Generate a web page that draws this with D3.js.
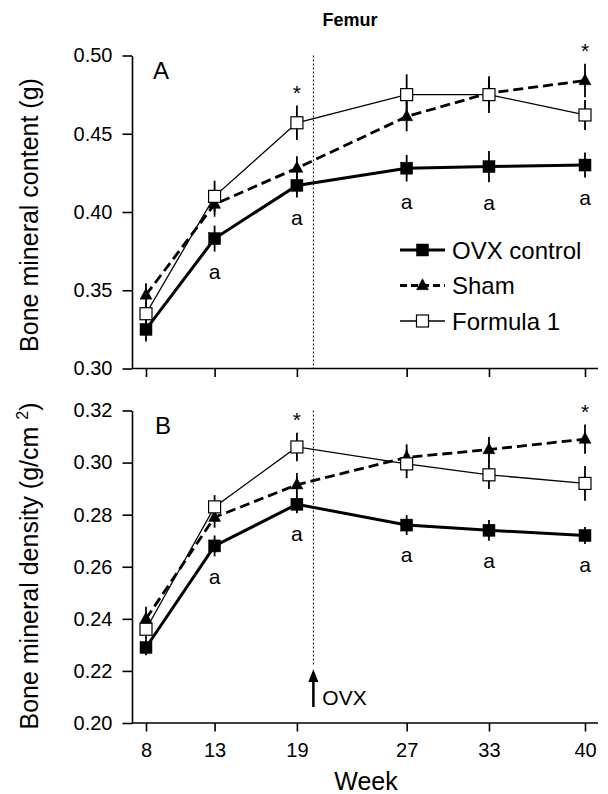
<!DOCTYPE html>
<html><head><meta charset="utf-8">
<script src="https://cdn.jsdelivr.net/npm/d3@7"></script>
<style>body{margin:0;background:#fff} text{font-family:"Liberation Sans",Arial,sans-serif;fill:#000}</style>
</head><body><svg id="c" width="608" height="794"></svg>
<script>
// ---------- data ----------
const weeks = [8, 13, 19, 27, 33, 40];
const seriesNames = ["OVX control", "Sham", "Formula 1"];
// Panel A: bone mineral content (g)
const bmcOVX    = [0.325, 0.383, 0.417, 0.428, 0.429, 0.430];
const bmcOVXse  = [0.0077, 0.0083, 0.0077, 0.0085, 0.010, 0.008];
const bmcSham   = [0.347, 0.405, 0.428, 0.461, 0.476, 0.484];
const bmcShamSe = [0.0075, 0.008, 0.0077, 0.0094, 0.009, 0.0107];
const bmcF1     = [0.335, 0.410, 0.457, 0.475, 0.475, 0.462];
const bmcF1Se   = [0.007, 0.010, 0.011, 0.013, 0.0117, 0.0096];
// Panel B: bone mineral density (g/cm2)
const bmdOVX    = [0.229, 0.268, 0.284, 0.276, 0.274, 0.272];
const bmdOVXse  = [0.003, 0.004, 0.0035, 0.0038, 0.004, 0.0033];
const bmdSham   = [0.240, 0.279, 0.2915, 0.302, 0.305, 0.309];
const bmdShamSe = [0.0046, 0.004, 0.0045, 0.005, 0.0048, 0.0056];
const bmdF1     = [0.236, 0.283, 0.306, 0.2995, 0.2953, 0.292];
const bmdF1Se   = [0.004, 0.0045, 0.0055, 0.0055, 0.0054, 0.0067];
const bmcTicks = [0.30, 0.35, 0.40, 0.45, 0.50];
const bmdTicks = [0.20, 0.22, 0.24, 0.26, 0.28, 0.30, 0.32];
const starWeeks = [19, 40];
const letterWeeks = [13, 19, 27, 33, 40];
const ovxWeek = 20.2;

// ---------- layout ----------
const svg = d3.select("#c");
const axisX = 132, axisRight = 598;
const x = d3.scaleLinear().domain([8, 40]).range([146, 585]);
const yA = d3.scaleLinear().domain([0.30, 0.50]).range([368.5, 55.5]);
const yB = d3.scaleLinear().domain([0.20, 0.32]).range([723, 410.5]);
const fmt = d3.format(".2f");

const styles = [
  {shape: "square", fill: "#000", width: 3, dash: null},
  {shape: "triangle", fill: "#000", width: 2.8, dash: "10,5"},
  {shape: "square", fill: "#fff", width: 1.3, dash: null}
];

function marker(g, shape, fill, cx, cy) {
  if (shape === "square") {
    const s = 12;
    g.append("rect").attr("x", cx - s/2).attr("y", cy - s/2).attr("width", s).attr("height", s)
      .attr("fill", fill).attr("stroke", "#000").attr("stroke-width", fill === "#fff" ? 1.2 : 0.5);
  } else {
    const w = 12, h = 11;
    g.append("path").attr("d", `M${cx},${cy - h*0.62}L${cx + w/2},${cy + h*0.38}L${cx - w/2},${cy + h*0.38}Z`)
      .attr("fill", fill).attr("stroke", "#000").attr("stroke-width", 0.5);
  }
}

function panel(y, ticks, data, showXLabels, letter, letterPos) {
  const g = svg.append("g");
  const ya = g.append("g").attr("transform", `translate(${axisX},0)`)
    .call(d3.axisLeft(y).tickValues(ticks).tickFormat(fmt).tickSize(9.5).tickPadding(10).tickSizeOuter(0));
  const xa = g.append("g").attr("transform", `translate(0,${y.range()[0]})`)
    .call(d3.axisBottom(x).tickValues(weeks).tickSize(8.5).tickPadding(11).tickSizeOuter(0)
      .tickFormat(showXLabels ? d3.format("d") : () => ""));
  xa.select(".domain").attr("d", `M${axisX},0H${axisRight}`);
  [ya, xa].forEach(a => {
    a.selectAll("path,line").attr("stroke", "#000").attr("stroke-width", 1.6);
    a.selectAll("text").attr("font-size", 20).attr("font-family", '"Liberation Sans",Arial,sans-serif');
  });
  const dotBottom = showXLabels ? 665 : y.range()[0];
  g.append("line").attr("x1", x(ovxWeek)).attr("x2", x(ovxWeek))
    .attr("y1", y.range()[1]).attr("y2", dotBottom)
    .attr("stroke", "#000").attr("stroke-width", 1).attr("stroke-dasharray", "2,2");
  data.forEach(s => {
    s.v.forEach((v, i) => {
      g.append("line").attr("x1", x(weeks[i])).attr("x2", x(weeks[i]))
        .attr("y1", y(v - s.e[i])).attr("y2", y(v + s.e[i]))
        .attr("stroke", "#000").attr("stroke-width", 1.8);
    });
  });
  data.forEach((s, si) => {
    const st = styles[si];
    g.append("path").datum(s.v)
      .attr("d", d3.line().x((d, i) => x(weeks[i])).y(d => y(d)))
      .attr("fill", "none").attr("stroke", "#000").attr("stroke-width", st.width)
      .attr("stroke-dasharray", st.dash);
  });
  data.forEach((s, si) => {
    const st = styles[si];
    s.v.forEach((v, i) => marker(g, st.shape, st.fill, x(weeks[i]), y(v)));
  });
  starWeeks.forEach(w => {
    const i = weeks.indexOf(w);
    const top = d3.min(data, s => y(s.v[i] + s.e[i]));
    g.append("text").attr("x", x(w)).attr("y", top - 17.5 + 12).attr("text-anchor", "middle")
      .attr("font-size", 21).text("*");
  });
  letterWeeks.forEach(w => {
    const i = weeks.indexOf(w);
    const s = data[0];
    const bot = y(s.v[i] - s.e[i]);
    g.append("text").attr("x", x(w)).attr("y", bot + 22 + 5.5).attr("text-anchor", "middle")
      .attr("font-size", 21).text("a");
  });
  g.append("text").attr("x", letterPos[0]).attr("y", letterPos[1]).attr("font-size", 24).text(letter);
  return g;
}

panel(yA, bmcTicks, [
  {v: bmcOVX, e: bmcOVXse}, {v: bmcSham, e: bmcShamSe}, {v: bmcF1, e: bmcF1Se}
], false, "A", [153, 79]);
panel(yB, bmdTicks, [
  {v: bmdOVX, e: bmdOVXse}, {v: bmdSham, e: bmdShamSe}, {v: bmdF1, e: bmdF1Se}
], true, "B", [155, 434]);

svg.append("text").attr("x", 350).attr("y", 26).attr("text-anchor", "middle")
  .attr("font-size", 18).attr("font-weight", "bold").text("Femur");

svg.append("text").attr("transform", "translate(38,215) rotate(-90)").attr("text-anchor", "middle")
  .attr("font-size", 25).text("Bone mineral content (g)");
const lb = svg.append("text").attr("transform", "translate(38,566) rotate(-90)").attr("text-anchor", "middle")
  .attr("font-size", 25);
lb.append("tspan").text("Bone mineral density (g/cm ");
lb.append("tspan").attr("dy", -10).attr("font-size", 16).text("2");
lb.append("tspan").attr("dy", 10).text(")");

svg.append("text").attr("x", 366).attr("y", 790).attr("text-anchor", "middle")
  .attr("font-size", 25).text("Week");

const ax = x(ovxWeek);
svg.append("line").attr("x1", ax).attr("x2", ax).attr("y1", 680).attr("y2", 707)
  .attr("stroke", "#000").attr("stroke-width", 2.5);
svg.append("path").attr("d", `M${ax},669L${ax + 5},682L${ax - 5},682Z`).attr("fill", "#000");
svg.append("text").attr("x", ax + 9).attr("y", 705).attr("font-size", 21).text("OVX");

const lg = svg.append("g");
const rows = [250, 285.5, 321];
seriesNames.forEach((name, i) => {
  const st = styles[i];
  lg.append("line").attr("x1", 400).attr("x2", 445).attr("y1", rows[i]).attr("y2", rows[i])
    .attr("stroke", "#000").attr("stroke-width", st.width)
    .attr("stroke-dasharray", st.dash ? "7,4" : null);
  marker(lg, st.shape, st.fill, 422.5, rows[i]);
  lg.append("text").attr("x", 452).attr("y", rows[i] + 8.5).attr("font-size", 24).text(name);
});
</script></body></html>
